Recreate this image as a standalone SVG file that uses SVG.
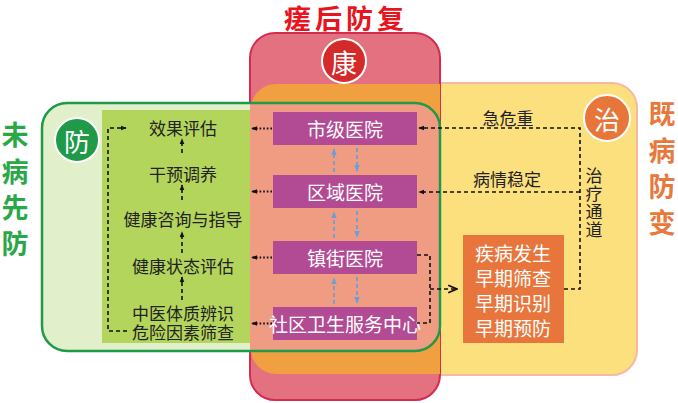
<svg xmlns="http://www.w3.org/2000/svg" width="678" height="403" viewBox="0 0 678 403">
<style>
text{font-family:"Noto Sans CJK SC","Noto Sans",sans-serif;}
.lbl{font-size:17px;fill:#222;text-anchor:middle;dominant-baseline:central;}
.node{fill:#b24a94;}
.ntx{font-size:19px;fill:#fff;text-anchor:middle;dominant-baseline:central;}
.dash{fill:none;stroke:#111;stroke-width:1.6;stroke-dasharray:4 3;}
.dot{fill:none;stroke:#111;stroke-width:1.8;stroke-dasharray:1.6 2;}
.blue{fill:none;stroke:#6c9fd6;stroke-width:1.8;stroke-dasharray:4 3;}
.vert{font-weight:bold;font-size:27px;text-anchor:middle;dominant-baseline:central;}
.circ{stroke:#fff;stroke-width:2;}
.ctx{font-size:26px;fill:#fff;text-anchor:middle;dominant-baseline:central;}
</style>
<defs>
<marker id="ab" viewBox="0 0 8 8" refX="7" refY="4" markerWidth="6" markerHeight="6" orient="auto" markerUnits="userSpaceOnUse"><path d="M0,0.8 L8,4 L0,7.2 Z" fill="#111"/></marker>
<marker id="abl" viewBox="0 0 8 8" refX="7" refY="4" markerWidth="7" markerHeight="7" orient="auto" markerUnits="userSpaceOnUse"><path d="M0,0.8 L8,4 L0,7.2 Z" fill="#6c9fd6"/></marker>
<marker id="ao" viewBox="0 0 10 10" refX="9" refY="5" markerWidth="11" markerHeight="11" orient="auto" markerUnits="userSpaceOnUse"><path d="M1,1.5 L9,5 L1,8.5" fill="none" stroke="#111" stroke-width="1.5"/></marker>
</defs>

<g id="zones">
<rect id="zhi-zone" x="250" y="83" width="387" height="292" rx="25" fill="#fde07e" stroke="#f6b9a2" stroke-width="2"/>
<rect id="kang-zone" x="250" y="33" width="190" height="367" rx="25" fill="#e3717f" stroke="#d42c50" stroke-width="2"/>
<path d="M251,108 A25,25 0 0 1 276,84 H440 V374 H276 A25,25 0 0 1 251,349 Z" fill="#f0a040"/>
<rect id="fang-zone" x="42" y="103" width="398" height="248" rx="25" fill="#e1f0cb"/>
<path d="M250,103 H415 A25,25 0 0 1 440,128 V326 A25,25 0 0 1 415,351 H250 Z" fill="#ef9c83"/>
<rect x="102" y="110" width="148" height="233" fill="#b4d55b"/>
<rect x="42" y="103" width="398" height="248" rx="25" fill="none" stroke="#1e9a48" stroke-width="2.5"/>
</g>

<g id="titles">
<text x="346" y="17" font-size="27" font-weight="bold" fill="#e8141e" text-anchor="middle" dominant-baseline="central" letter-spacing="4">瘥后防复</text>
<text x="15" y="133" class="vert" fill="#2aa848">未</text>
<text x="15" y="170" class="vert" fill="#2aa848">病</text>
<text x="15" y="206" class="vert" fill="#2aa848">先</text>
<text x="15" y="242" class="vert" fill="#2aa848">防</text>
<text x="662" y="112" class="vert" fill="#e8783c">既</text>
<text x="662" y="149" class="vert" fill="#e8783c">病</text>
<text x="662" y="185" class="vert" fill="#e8783c">防</text>
<text x="662" y="221" class="vert" fill="#e8783c">变</text>
</g>

<g id="badge-fang"><circle cx="77" cy="140" r="22" fill="#1e9a48" class="circ"/><text x="77" y="140" class="ctx">防</text></g>
<g id="badge-kang"><circle cx="344" cy="61" r="22" fill="#d42a2a" class="circ"/><text x="344" y="61" class="ctx">康</text></g>
<g id="badge-zhi"><circle cx="607" cy="118" r="23" fill="#e8753a" class="circ"/><text x="607" y="118" class="ctx">治</text></g>

<g id="prevention-steps">
<text x="183" y="127" class="lbl">效果评估</text>
<text x="183" y="173" class="lbl">干预调养</text>
<text x="183" y="218" class="lbl">健康咨询与指导</text>
<text x="183" y="265" class="lbl">健康状态评估</text>
<text x="183" y="312" class="lbl" font-size="16.5">中医体质辨识</text>
<text x="183" y="331" class="lbl" font-size="16.5">危险因素筛查</text>
</g>

<g id="n-city"><rect x="273" y="112" width="144" height="33" class="node"/><text x="345" y="128.5" class="ntx">市级医院</text></g>
<g id="n-district"><rect x="273" y="175" width="144" height="33" class="node"/><text x="345" y="191.5" class="ntx">区域医院</text></g>
<g id="n-town"><rect x="273" y="241" width="144" height="33" class="node"/><text x="345" y="257.5" class="ntx">镇街医院</text></g>
<g id="n-community"><rect x="273" y="307" width="144" height="33" class="node"/><text x="345" y="323.5" class="ntx" font-size="17">社区卫生服务中心</text></g>

<g id="n-early"><rect x="463" y="235" width="101" height="108" fill="#e8763c"/>
<text x="513" y="252" class="ntx">疾病发生</text>
<text x="513" y="277" class="ntx">早期筛查</text>
<text x="513" y="302" class="ntx">早期识别</text>
<text x="513" y="327" class="ntx">早期预防</text>
</g>

<g id="channel-labels">
<text x="508" y="117" class="lbl">急危重</text>
<text x="507" y="178" class="lbl">病情稳定</text>
<text x="594" y="174" class="lbl" font-size="16">治</text>
<text x="594" y="192" class="lbl" font-size="16">疗</text>
<text x="594" y="210" class="lbl" font-size="16">通</text>
<text x="594" y="228" class="lbl" font-size="16">道</text>
</g>

<g id="connectors">
<path d="M182,153 V139" class="dash" stroke-dasharray="3 2" marker-end="url(#ab)"/>
<path d="M182,200 V185" class="dash" stroke-dasharray="3 2" marker-end="url(#ab)"/>
<path d="M182,253 V232" class="dash" stroke-dasharray="3 2" marker-end="url(#ab)"/>
<path d="M182,300 V277" class="dash" stroke-dasharray="3 2" marker-end="url(#ab)"/>
<path d="M127,331 H108 V128 H126" class="dash" stroke-dasharray="3 2" marker-end="url(#ab)"/>
<path d="M272,128.5 H252" class="dot" marker-end="url(#ab)"/>
<path d="M272,191.5 H252" class="dot" marker-end="url(#ab)"/>
<path d="M272,257.5 H252" class="dot" marker-end="url(#ab)"/>
<path d="M272,323.5 H252" class="dot" marker-end="url(#ab)"/>
<path d="M334,172 V149" class="blue" marker-end="url(#abl)"/>
<path d="M357,148 V171" class="blue" marker-end="url(#abl)"/>
<path d="M334,238 V212" class="blue" marker-end="url(#abl)"/>
<path d="M357,211 V237" class="blue" marker-end="url(#abl)"/>
<path d="M334,304 V278" class="blue" marker-end="url(#abl)"/>
<path d="M357,277 V303" class="blue" marker-end="url(#abl)"/>
<path d="M564,289 H580 V128 H419" class="dash" marker-end="url(#ab)"/>
<path d="M580,192 H419" class="dash" marker-end="url(#ab)"/>
<path d="M417,255 H430 V323 H417" class="dash"/>
<path d="M430,289 H457" class="dash" marker-end="url(#ao)"/>
</g>
</svg>
